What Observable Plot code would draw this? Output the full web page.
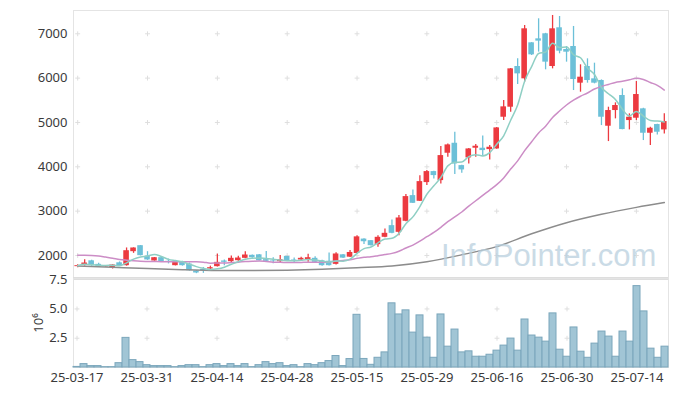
<!DOCTYPE html>
<html><head><meta charset="utf-8">
<script src="https://cdn.jsdelivr.net/npm/d3@7"></script>
<script src="https://cdn.jsdelivr.net/npm/@observablehq/plot@0.6"></script>
<style>
body{margin:0;background:#fff;}
#wrap{position:relative;width:677px;height:396px;font-family:"Noto Sans",sans-serif;}
#wrap svg{position:absolute;left:0;overflow:visible;}
#wm{position:absolute;left:441px;top:240px;font:31px/31px "Liberation Sans",Arial,sans-serif;color:#b9d0de;opacity:.75;white-space:nowrap;pointer-events:none;}
</style></head><body><div id="wrap"><div id="wm">InfoPointer.com</div></div>
<script>
const dates = ["25-03-17","25-03-18","25-03-19","25-03-20","25-03-21","25-03-24","25-03-25","25-03-26","25-03-27","25-03-28","25-03-31",
"25-04-01","25-04-02","25-04-03","25-04-04","25-04-07","25-04-08","25-04-09","25-04-10","25-04-11","25-04-14","25-04-15","25-04-16","25-04-17","25-04-18","25-04-21","25-04-22","25-04-23","25-04-24","25-04-25","25-04-28","25-04-29","25-04-30",
"25-05-02","25-05-07","25-05-08","25-05-09","25-05-12","25-05-13","25-05-14","25-05-15","25-05-16","25-05-19","25-05-20","25-05-21","25-05-22","25-05-23","25-05-26","25-05-27","25-05-28","25-05-29","25-05-30",
"25-06-02","25-06-04","25-06-05","25-06-09","25-06-10","25-06-11","25-06-12","25-06-13","25-06-16","25-06-17","25-06-18","25-06-19","25-06-20","25-06-23","25-06-24","25-06-25","25-06-26","25-06-27","25-06-30",
"25-07-01","25-07-02","25-07-03","25-07-04","25-07-07","25-07-08","25-07-09","25-07-10","25-07-11","25-07-14","25-07-15","25-07-16","25-07-17","25-07-18"];

const open  = [1748,1778,1880,1800,1742,1725,1835,1770,2086,2221,1981,1876,1951,1868,1770,1855,1808,1650,1688,1695,
1748,1876,1860,1883,1936,2004,2015,1906,1890,1860,1978,1898,1898,1906,1936,1880,1870,1800,2015,1962,
2045,2370,2334,2244,2410,2673,2522,2771,3350,3222,3644,3892,3689,4306,4531,4027,4200,4419,4419,4388,
4403,5118,5344,6262,5984,6796,6886,7000,6262,7135,6646,6713,5886,6262,5984,5946,4915,5269,5608,5043,
5096,5307,4757,4953,4832];
const high  = [1793,1905,1890,1825,1760,1790,1855,2170,2172,2225,2086,1955,1958,1920,1865,1870,1830,1660,1730,1760,
2030,1898,1990,1980,2086,2010,2025,2090,1950,2000,1985,1943,1958,2030,1973,1890,2056,2060,2020,2110,
2447,2380,2340,2447,2598,2801,2899,3373,3478,3801,3914,3900,4456,4516,4780,4035,4410,4501,4697,4479,
4885,5495,6215,6435,7187,6800,7338,7010,7413,7390,6713,7165,6300,6435,6337,5960,5344,5442,5758,5194,
5923,5320,4893,4960,5194];
const low   = [1725,1765,1760,1735,1735,1695,1760,1760,2048,1990,1890,1870,1855,1810,1765,1760,1650,1590,1598,1680,
1740,1770,1840,1868,1925,1940,1876,1845,1815,1840,1865,1838,1883,1846,1840,1760,1765,1785,1930,1955,
2035,2245,2215,2184,2400,2490,2447,2760,3170,3215,3576,3726,3613,4215,3824,3854,4065,4215,4238,4155,
4395,5043,5231,5856,5908,6510,6586,6187,6209,6548,6360,5720,5683,5886,5871,4930,4569,5081,4835,4832,
5043,4592,4479,4720,4742];
const close = [1770,1830,1770,1755,1755,1785,1770,2108,2169,1996,1900,1950,1862,1855,1860,1770,1657,1605,1660,1725,
1845,1846,1936,1943,2011,1951,1880,1868,1876,1905,1872,1876,1936,1950,1846,1770,1770,2034,1940,2068,
2420,2310,2221,2410,2500,2500,2846,3328,3177,3666,3892,3802,4253,4494,4065,3930,4403,4464,4366,4441,
4877,5352,6209,6096,7112,6525,6834,6360,7112,6608,6585,5969,6021,5946,5886,5118,5269,5382,4840,5118,
5630,4757,4870,4780,5020];
// volume in millions of shares
const volume = [0.05,0.29,0.12,0.12,0.03,0.03,0.37,2.53,0.63,0.46,0.20,0.12,0.12,0.12,0.03,0.12,0.20,0.20,0.03,0.20,
0.29,0.12,0.29,0.12,0.29,0.03,0.20,0.46,0.29,0.37,0.12,0.20,0.03,0.29,0.20,0.37,0.55,0.98,0.12,0.72,
4.50,0.73,0.23,0.83,1.29,5.48,4.53,4.88,2.98,4.45,2.55,0.83,4.53,1.78,3.24,1.29,1.38,0.92,0.92,1.09,
1.44,1.87,2.47,1.44,4.10,2.73,2.55,2.21,4.62,1.52,0.92,3.42,1.35,0.83,2.04,3.07,2.64,0.92,3.07,2.21,
6.95,4.79,1.61,0.83,1.78];
// 20-day average before enough visible history
const ma20Early = [2005,2005,2002,1990,1965,1940,1910,1893,1880,1870,1866,1863,1860,1860,1860,1860,1860,1858,1850];
// long moving average (grey)
const maLongIdx = [0,5,10,15,20,25,30,35,40,45,50,55,60,65,70,75,80,84];
const maLongVal = [1765,1735,1705,1680,1662,1660,1668,1690,1725,1765,1860,2015,2200,2490,2740,2930,3085,3193];

const priceTicks = [2000,3000,4000,5000,6000,7000];
const volTicks = [2.5,5.0,7.5];
const tickEvery = 10;

const idx = d3.range(dates.length);
const rows = idx.map(i => ({i, o: open[i], h: high[i], l: low[i], c: close[i], v: volume[i], up: close[i] >= open[i]}));
const tickIdx = idx.filter(i => i % tickEvery === 0);
const ma5 = idx.map(i => ({i, v: d3.mean(close.slice(Math.max(0, i - 4), i + 1))}));
const ma20 = idx.map(i => ({i, v: i < 19 ? ma20Early[i] : d3.mean(close.slice(i - 19, i + 1))}));
const maLong = maLongIdx.map((i, k) => ({i, v: maLongVal[k]}));

const RED = "#ec3a40", BLUE = "#6cc0d8";
const gridTop = tickIdx.flatMap(i => priceTicks.map(p => ({i, p})));
const gridBot = tickIdx.flatMap(i => [2.5, 5.0].map(p => ({i, p})));

const txt = {fontFamily: "'Noto Sans', sans-serif", fontSize: "13px", color: "#3a3a3a", background: "transparent", overflow: "visible"};

const topChart = Plot.plot({
  width: 677, height: 279,
  marginLeft: 73, marginRight: 9, marginTop: 10, marginBottom: 1,
  style: txt,
  x: {type: "band", domain: idx, padding: 0.2, axis: null},
  y: {domain: [1481, 7525], axis: null},
  marks: [
    Plot.frame({stroke: "#e4e4e4"}),
    Plot.dot(gridTop, {x: "i", y: "p", symbol: "plus", r: 1.7, stroke: "#dedede", strokeWidth: 1}),
    Plot.axisY({ticks: priceTicks, tickSize: 0, tickPadding: 6, tickFormat: d => String(d), fill: "#3a3a3a", label: null}),
    Plot.ruleX(rows, {x: "i", y1: "l", y2: "h", stroke: d => d.up ? RED : BLUE, strokeWidth: 1.3}),
    Plot.barY(rows, {x: "i", y1: "o", y2: d => Math.abs(d.c - d.o) < 12 ? d.o + (d.up ? 14 : -14) : d.c, fill: d => d.up ? RED : BLUE}),
    Plot.line(maLong, {x: "i", y: "v", stroke: "#8c8c8c", strokeWidth: 1.5, curve: "catmull-rom"}),
    Plot.line(ma20, {x: "i", y: "v", stroke: "#cc8dc6", strokeWidth: 1.5, curve: "monotone-x"}),
    Plot.line(ma5, {x: "i", y: "v", stroke: "#8fcfc4", strokeWidth: 1.5, curve: "monotone-x"}),
    Plot.ruleY([1481], {stroke: "#dedede", strokeWidth: 3})
  ]
});
topChart.style.top = "0px";

const botChart = Plot.plot({
  width: 677, height: 118,
  marginLeft: 73, marginRight: 9, marginTop: 0, marginBottom: 29,
  style: txt,
  x: {type: "band", domain: idx, padding: 0, axis: null},
  y: {domain: [0, 7.6], axis: null},
  marks: [
    Plot.frame({stroke: "#e4e4e4"}),
    Plot.dot(gridBot, {x: "i", y: "p", symbol: "plus", r: 1.7, stroke: "#dedede", strokeWidth: 1}),
    Plot.barY(rows, {x: "i", y: "v", fill: "#9cc2d3", stroke: "#7ba6bb", strokeWidth: 1, fillOpacity: 0.95}),
    Plot.axisY({ticks: volTicks, tickSize: 0, tickPadding: 6, tickFormat: d => d.toFixed(1), fill: "#3a3a3a",
      label: "10⁶", labelAnchor: "center", labelArrow: "none", labelOffset: 40}),
    Plot.axisX({ticks: tickIdx, tickSize: 0, tickPadding: 5, tickFormat: i => dates[i], fill: "#3a3a3a", label: null})
  ]
});
botChart.style.top = "278px";

const wrap = document.getElementById("wrap");
wrap.insertBefore(topChart, wrap.firstChild);
wrap.insertBefore(botChart, document.getElementById("wm"));
</script>
</body></html>
